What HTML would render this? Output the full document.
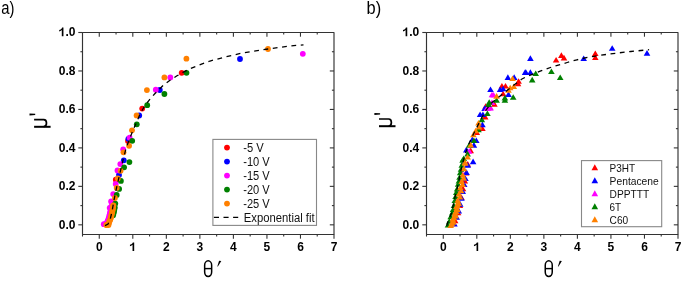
<!DOCTYPE html>
<html><head><meta charset="utf-8"><style>
html,body{margin:0;padding:0;background:#fff;}
svg{display:block;will-change:transform;}
text{font-family:"Liberation Sans",sans-serif;}
.tl{font-size:12px;font-weight:bold;fill:#000;}
.lg{font-size:12px;fill:#111;}
.lg2{font-size:10.6px;fill:#111;}
.pl{font-size:17.5px;fill:#000;}
</style></head><body>
<svg width="685" height="286" viewBox="0 0 685 286">
<rect x="82.5" y="32.5" width="251.50" height="201.95" fill="none" stroke="#333333" stroke-width="1.15" stroke-linejoin="round"/>
<line x1="82.50" y1="234.45" x2="82.50" y2="236.54999999999998" stroke="#333333" stroke-width="1.1"/>
<line x1="99.27" y1="234.45" x2="99.27" y2="238.64999999999998" stroke="#333333" stroke-width="1.1"/>
<line x1="99.27" y1="32.5" x2="99.27" y2="36.7" stroke="#333333" stroke-width="1.1"/>
<line x1="116.04" y1="234.45" x2="116.04" y2="236.54999999999998" stroke="#333333" stroke-width="1.1"/>
<line x1="116.04" y1="32.5" x2="116.04" y2="34.6" stroke="#333333" stroke-width="1.1"/>
<line x1="132.80" y1="234.45" x2="132.80" y2="238.64999999999998" stroke="#333333" stroke-width="1.1"/>
<line x1="132.80" y1="32.5" x2="132.80" y2="36.7" stroke="#333333" stroke-width="1.1"/>
<line x1="149.57" y1="234.45" x2="149.57" y2="236.54999999999998" stroke="#333333" stroke-width="1.1"/>
<line x1="149.57" y1="32.5" x2="149.57" y2="34.6" stroke="#333333" stroke-width="1.1"/>
<line x1="166.34" y1="234.45" x2="166.34" y2="238.64999999999998" stroke="#333333" stroke-width="1.1"/>
<line x1="166.34" y1="32.5" x2="166.34" y2="36.7" stroke="#333333" stroke-width="1.1"/>
<line x1="183.10" y1="234.45" x2="183.10" y2="236.54999999999998" stroke="#333333" stroke-width="1.1"/>
<line x1="183.10" y1="32.5" x2="183.10" y2="34.6" stroke="#333333" stroke-width="1.1"/>
<line x1="199.87" y1="234.45" x2="199.87" y2="238.64999999999998" stroke="#333333" stroke-width="1.1"/>
<line x1="199.87" y1="32.5" x2="199.87" y2="36.7" stroke="#333333" stroke-width="1.1"/>
<line x1="216.64" y1="234.45" x2="216.64" y2="236.54999999999998" stroke="#333333" stroke-width="1.1"/>
<line x1="216.64" y1="32.5" x2="216.64" y2="34.6" stroke="#333333" stroke-width="1.1"/>
<line x1="233.40" y1="234.45" x2="233.40" y2="238.64999999999998" stroke="#333333" stroke-width="1.1"/>
<line x1="233.40" y1="32.5" x2="233.40" y2="36.7" stroke="#333333" stroke-width="1.1"/>
<line x1="250.17" y1="234.45" x2="250.17" y2="236.54999999999998" stroke="#333333" stroke-width="1.1"/>
<line x1="250.17" y1="32.5" x2="250.17" y2="34.6" stroke="#333333" stroke-width="1.1"/>
<line x1="266.94" y1="234.45" x2="266.94" y2="238.64999999999998" stroke="#333333" stroke-width="1.1"/>
<line x1="266.94" y1="32.5" x2="266.94" y2="36.7" stroke="#333333" stroke-width="1.1"/>
<line x1="283.70" y1="234.45" x2="283.70" y2="236.54999999999998" stroke="#333333" stroke-width="1.1"/>
<line x1="283.70" y1="32.5" x2="283.70" y2="34.6" stroke="#333333" stroke-width="1.1"/>
<line x1="300.47" y1="234.45" x2="300.47" y2="238.64999999999998" stroke="#333333" stroke-width="1.1"/>
<line x1="300.47" y1="32.5" x2="300.47" y2="36.7" stroke="#333333" stroke-width="1.1"/>
<line x1="317.23" y1="234.45" x2="317.23" y2="236.54999999999998" stroke="#333333" stroke-width="1.1"/>
<line x1="317.23" y1="32.5" x2="317.23" y2="34.6" stroke="#333333" stroke-width="1.1"/>
<line x1="334.00" y1="234.45" x2="334.00" y2="238.64999999999998" stroke="#333333" stroke-width="1.1"/>
<line x1="78.3" y1="224.83" x2="82.5" y2="224.83" stroke="#333333" stroke-width="1.1"/>
<line x1="329.8" y1="224.83" x2="334.0" y2="224.83" stroke="#333333" stroke-width="1.1"/>
<line x1="80.4" y1="205.60" x2="82.5" y2="205.60" stroke="#333333" stroke-width="1.1"/>
<line x1="331.9" y1="205.60" x2="334.0" y2="205.60" stroke="#333333" stroke-width="1.1"/>
<line x1="78.3" y1="186.36" x2="82.5" y2="186.36" stroke="#333333" stroke-width="1.1"/>
<line x1="329.8" y1="186.36" x2="334.0" y2="186.36" stroke="#333333" stroke-width="1.1"/>
<line x1="80.4" y1="167.13" x2="82.5" y2="167.13" stroke="#333333" stroke-width="1.1"/>
<line x1="331.9" y1="167.13" x2="334.0" y2="167.13" stroke="#333333" stroke-width="1.1"/>
<line x1="78.3" y1="147.90" x2="82.5" y2="147.90" stroke="#333333" stroke-width="1.1"/>
<line x1="329.8" y1="147.90" x2="334.0" y2="147.90" stroke="#333333" stroke-width="1.1"/>
<line x1="80.4" y1="128.67" x2="82.5" y2="128.67" stroke="#333333" stroke-width="1.1"/>
<line x1="331.9" y1="128.67" x2="334.0" y2="128.67" stroke="#333333" stroke-width="1.1"/>
<line x1="78.3" y1="109.43" x2="82.5" y2="109.43" stroke="#333333" stroke-width="1.1"/>
<line x1="329.8" y1="109.43" x2="334.0" y2="109.43" stroke="#333333" stroke-width="1.1"/>
<line x1="80.4" y1="90.20" x2="82.5" y2="90.20" stroke="#333333" stroke-width="1.1"/>
<line x1="331.9" y1="90.20" x2="334.0" y2="90.20" stroke="#333333" stroke-width="1.1"/>
<line x1="78.3" y1="70.97" x2="82.5" y2="70.97" stroke="#333333" stroke-width="1.1"/>
<line x1="329.8" y1="70.97" x2="334.0" y2="70.97" stroke="#333333" stroke-width="1.1"/>
<line x1="80.4" y1="51.73" x2="82.5" y2="51.73" stroke="#333333" stroke-width="1.1"/>
<line x1="331.9" y1="51.73" x2="334.0" y2="51.73" stroke="#333333" stroke-width="1.1"/>
<line x1="78.3" y1="32.50" x2="82.5" y2="32.50" stroke="#333333" stroke-width="1.1"/>
<text x="99.27" y="251" class="tl" text-anchor="middle">0</text>
<path d="M134.19,251.00 L134.19,242.41 L132.84,242.41 L132.47,243.32 L131.39,244.28 L129.95,244.82 L129.95,246.30 L131.15,245.86 L131.99,245.36 L132.54,244.82 L132.54,251.00 Z" fill="#000"/>
<text x="166.34" y="251" class="tl" text-anchor="middle">2</text>
<text x="199.87" y="251" class="tl" text-anchor="middle">3</text>
<text x="233.40" y="251" class="tl" text-anchor="middle">4</text>
<text x="266.94" y="251" class="tl" text-anchor="middle">5</text>
<text x="300.47" y="251" class="tl" text-anchor="middle">6</text>
<text x="334.00" y="251" class="tl" text-anchor="middle">7</text>
<text x="75.4" y="228.53" class="tl" text-anchor="end">0.0</text>
<text x="75.4" y="190.06" class="tl" text-anchor="end">0.2</text>
<text x="75.4" y="151.60" class="tl" text-anchor="end">0.4</text>
<text x="75.4" y="113.13" class="tl" text-anchor="end">0.6</text>
<text x="75.4" y="74.67" class="tl" text-anchor="end">0.8</text>
<path d="M63.45,36.20 L63.45,27.61 L62.09,27.61 L61.72,28.52 L60.64,29.48 L59.20,30.02 L59.20,31.50 L60.40,31.06 L61.24,30.56 L61.79,30.02 L61.79,36.20 Z" fill="#000"/>
<text x="75.4" y="36.20" class="tl" text-anchor="end">.0</text>
<rect x="426.5" y="32.5" width="251.50" height="201.95" fill="none" stroke="#333333" stroke-width="1.15" stroke-linejoin="round"/>
<line x1="426.50" y1="234.45" x2="426.50" y2="236.54999999999998" stroke="#333333" stroke-width="1.1"/>
<line x1="443.27" y1="234.45" x2="443.27" y2="238.64999999999998" stroke="#333333" stroke-width="1.1"/>
<line x1="443.27" y1="32.5" x2="443.27" y2="36.7" stroke="#333333" stroke-width="1.1"/>
<line x1="460.04" y1="234.45" x2="460.04" y2="236.54999999999998" stroke="#333333" stroke-width="1.1"/>
<line x1="460.04" y1="32.5" x2="460.04" y2="34.6" stroke="#333333" stroke-width="1.1"/>
<line x1="476.80" y1="234.45" x2="476.80" y2="238.64999999999998" stroke="#333333" stroke-width="1.1"/>
<line x1="476.80" y1="32.5" x2="476.80" y2="36.7" stroke="#333333" stroke-width="1.1"/>
<line x1="493.57" y1="234.45" x2="493.57" y2="236.54999999999998" stroke="#333333" stroke-width="1.1"/>
<line x1="493.57" y1="32.5" x2="493.57" y2="34.6" stroke="#333333" stroke-width="1.1"/>
<line x1="510.34" y1="234.45" x2="510.34" y2="238.64999999999998" stroke="#333333" stroke-width="1.1"/>
<line x1="510.34" y1="32.5" x2="510.34" y2="36.7" stroke="#333333" stroke-width="1.1"/>
<line x1="527.10" y1="234.45" x2="527.10" y2="236.54999999999998" stroke="#333333" stroke-width="1.1"/>
<line x1="527.10" y1="32.5" x2="527.10" y2="34.6" stroke="#333333" stroke-width="1.1"/>
<line x1="543.87" y1="234.45" x2="543.87" y2="238.64999999999998" stroke="#333333" stroke-width="1.1"/>
<line x1="543.87" y1="32.5" x2="543.87" y2="36.7" stroke="#333333" stroke-width="1.1"/>
<line x1="560.64" y1="234.45" x2="560.64" y2="236.54999999999998" stroke="#333333" stroke-width="1.1"/>
<line x1="560.64" y1="32.5" x2="560.64" y2="34.6" stroke="#333333" stroke-width="1.1"/>
<line x1="577.40" y1="234.45" x2="577.40" y2="238.64999999999998" stroke="#333333" stroke-width="1.1"/>
<line x1="577.40" y1="32.5" x2="577.40" y2="36.7" stroke="#333333" stroke-width="1.1"/>
<line x1="594.17" y1="234.45" x2="594.17" y2="236.54999999999998" stroke="#333333" stroke-width="1.1"/>
<line x1="594.17" y1="32.5" x2="594.17" y2="34.6" stroke="#333333" stroke-width="1.1"/>
<line x1="610.93" y1="234.45" x2="610.93" y2="238.64999999999998" stroke="#333333" stroke-width="1.1"/>
<line x1="610.93" y1="32.5" x2="610.93" y2="36.7" stroke="#333333" stroke-width="1.1"/>
<line x1="627.70" y1="234.45" x2="627.70" y2="236.54999999999998" stroke="#333333" stroke-width="1.1"/>
<line x1="627.70" y1="32.5" x2="627.70" y2="34.6" stroke="#333333" stroke-width="1.1"/>
<line x1="644.47" y1="234.45" x2="644.47" y2="238.64999999999998" stroke="#333333" stroke-width="1.1"/>
<line x1="644.47" y1="32.5" x2="644.47" y2="36.7" stroke="#333333" stroke-width="1.1"/>
<line x1="661.23" y1="234.45" x2="661.23" y2="236.54999999999998" stroke="#333333" stroke-width="1.1"/>
<line x1="661.23" y1="32.5" x2="661.23" y2="34.6" stroke="#333333" stroke-width="1.1"/>
<line x1="678.00" y1="234.45" x2="678.00" y2="238.64999999999998" stroke="#333333" stroke-width="1.1"/>
<line x1="422.3" y1="224.83" x2="426.5" y2="224.83" stroke="#333333" stroke-width="1.1"/>
<line x1="673.8" y1="224.83" x2="678.0" y2="224.83" stroke="#333333" stroke-width="1.1"/>
<line x1="424.4" y1="205.60" x2="426.5" y2="205.60" stroke="#333333" stroke-width="1.1"/>
<line x1="675.9" y1="205.60" x2="678.0" y2="205.60" stroke="#333333" stroke-width="1.1"/>
<line x1="422.3" y1="186.36" x2="426.5" y2="186.36" stroke="#333333" stroke-width="1.1"/>
<line x1="673.8" y1="186.36" x2="678.0" y2="186.36" stroke="#333333" stroke-width="1.1"/>
<line x1="424.4" y1="167.13" x2="426.5" y2="167.13" stroke="#333333" stroke-width="1.1"/>
<line x1="675.9" y1="167.13" x2="678.0" y2="167.13" stroke="#333333" stroke-width="1.1"/>
<line x1="422.3" y1="147.90" x2="426.5" y2="147.90" stroke="#333333" stroke-width="1.1"/>
<line x1="673.8" y1="147.90" x2="678.0" y2="147.90" stroke="#333333" stroke-width="1.1"/>
<line x1="424.4" y1="128.67" x2="426.5" y2="128.67" stroke="#333333" stroke-width="1.1"/>
<line x1="675.9" y1="128.67" x2="678.0" y2="128.67" stroke="#333333" stroke-width="1.1"/>
<line x1="422.3" y1="109.43" x2="426.5" y2="109.43" stroke="#333333" stroke-width="1.1"/>
<line x1="673.8" y1="109.43" x2="678.0" y2="109.43" stroke="#333333" stroke-width="1.1"/>
<line x1="424.4" y1="90.20" x2="426.5" y2="90.20" stroke="#333333" stroke-width="1.1"/>
<line x1="675.9" y1="90.20" x2="678.0" y2="90.20" stroke="#333333" stroke-width="1.1"/>
<line x1="422.3" y1="70.97" x2="426.5" y2="70.97" stroke="#333333" stroke-width="1.1"/>
<line x1="673.8" y1="70.97" x2="678.0" y2="70.97" stroke="#333333" stroke-width="1.1"/>
<line x1="424.4" y1="51.73" x2="426.5" y2="51.73" stroke="#333333" stroke-width="1.1"/>
<line x1="675.9" y1="51.73" x2="678.0" y2="51.73" stroke="#333333" stroke-width="1.1"/>
<line x1="422.3" y1="32.50" x2="426.5" y2="32.50" stroke="#333333" stroke-width="1.1"/>
<text x="443.27" y="251" class="tl" text-anchor="middle">0</text>
<path d="M478.19,251.00 L478.19,242.41 L476.84,242.41 L476.47,243.32 L475.39,244.28 L473.95,244.82 L473.95,246.30 L475.15,245.86 L475.99,245.36 L476.54,244.82 L476.54,251.00 Z" fill="#000"/>
<text x="510.34" y="251" class="tl" text-anchor="middle">2</text>
<text x="543.87" y="251" class="tl" text-anchor="middle">3</text>
<text x="577.40" y="251" class="tl" text-anchor="middle">4</text>
<text x="610.93" y="251" class="tl" text-anchor="middle">5</text>
<text x="644.47" y="251" class="tl" text-anchor="middle">6</text>
<text x="678.00" y="251" class="tl" text-anchor="middle">7</text>
<text x="419.2" y="228.53" class="tl" text-anchor="end">0.0</text>
<text x="419.2" y="190.06" class="tl" text-anchor="end">0.2</text>
<text x="419.2" y="151.60" class="tl" text-anchor="end">0.4</text>
<text x="419.2" y="113.13" class="tl" text-anchor="end">0.6</text>
<text x="419.2" y="74.67" class="tl" text-anchor="end">0.8</text>
<path d="M407.25,36.20 L407.25,27.61 L405.89,27.61 L405.52,28.52 L404.44,29.48 L403.00,30.02 L403.00,31.50 L404.20,31.06 L405.04,30.56 L405.59,30.02 L405.59,36.20 Z" fill="#000"/>
<text x="419.2" y="36.20" class="tl" text-anchor="end">.0</text>
<circle cx="181.70" cy="72.80" r="2.9" fill="#ff0000"/><circle cx="142.20" cy="108.60" r="2.9" fill="#ff0000"/><circle cx="128.00" cy="141.00" r="2.9" fill="#ff0000"/><circle cx="115.80" cy="179.70" r="2.9" fill="#ff0000"/><circle cx="240.00" cy="59.00" r="2.9" fill="#0000ff"/><circle cx="159.80" cy="90.00" r="2.9" fill="#0000ff"/><circle cx="139.20" cy="115.50" r="2.9" fill="#0000ff"/><circle cx="128.40" cy="138.80" r="2.9" fill="#0000ff"/><circle cx="123.80" cy="160.30" r="2.9" fill="#0000ff"/><circle cx="119.00" cy="175.00" r="2.9" fill="#0000ff"/><circle cx="103.80" cy="224.20" r="2.9" fill="#ff00ff"/><circle cx="105.63" cy="224.00" r="2.9" fill="#ff00ff"/><circle cx="107.06" cy="222.40" r="2.9" fill="#ff00ff"/><circle cx="107.72" cy="220.80" r="2.9" fill="#ff00ff"/><circle cx="108.38" cy="219.20" r="2.9" fill="#ff00ff"/><circle cx="108.95" cy="217.60" r="2.9" fill="#ff00ff"/><circle cx="109.34" cy="216.00" r="2.9" fill="#ff00ff"/><circle cx="109.72" cy="214.40" r="2.9" fill="#ff00ff"/><circle cx="110.07" cy="212.80" r="2.9" fill="#ff00ff"/><circle cx="110.43" cy="211.20" r="2.9" fill="#ff00ff"/><circle cx="110.78" cy="209.60" r="2.9" fill="#ff00ff"/><circle cx="111.05" cy="208.00" r="2.9" fill="#ff00ff"/><circle cx="111.33" cy="206.40" r="2.9" fill="#ff00ff"/><circle cx="302.80" cy="53.80" r="2.9" fill="#ff00ff"/><circle cx="170.30" cy="77.40" r="2.9" fill="#ff00ff"/><circle cx="155.80" cy="89.70" r="2.9" fill="#ff00ff"/><circle cx="129.60" cy="137.70" r="2.9" fill="#ff00ff"/><circle cx="123.20" cy="149.50" r="2.9" fill="#ff00ff"/><circle cx="120.30" cy="164.10" r="2.9" fill="#ff00ff"/><circle cx="117.50" cy="170.40" r="2.9" fill="#ff00ff"/><circle cx="115.70" cy="184.00" r="2.9" fill="#ff00ff"/><circle cx="113.20" cy="194.10" r="2.9" fill="#ff00ff"/><circle cx="111.10" cy="201.50" r="2.9" fill="#ff00ff"/><circle cx="109.70" cy="207.80" r="2.9" fill="#ff00ff"/><circle cx="113.12" cy="215.20" r="2.9" fill="#008000"/><circle cx="113.47" cy="213.60" r="2.9" fill="#008000"/><circle cx="113.83" cy="212.00" r="2.9" fill="#008000"/><circle cx="114.18" cy="210.40" r="2.9" fill="#008000"/><circle cx="114.45" cy="208.80" r="2.9" fill="#008000"/><circle cx="114.73" cy="207.20" r="2.9" fill="#008000"/><circle cx="186.50" cy="72.80" r="2.9" fill="#008000"/><circle cx="164.40" cy="94.00" r="2.9" fill="#008000"/><circle cx="147.20" cy="105.20" r="2.9" fill="#008000"/><circle cx="136.80" cy="124.30" r="2.9" fill="#008000"/><circle cx="132.20" cy="140.80" r="2.9" fill="#008000"/><circle cx="129.40" cy="162.10" r="2.9" fill="#008000"/><circle cx="124.10" cy="167.30" r="2.9" fill="#008000"/><circle cx="120.90" cy="180.90" r="2.9" fill="#008000"/><circle cx="119.10" cy="188.90" r="2.9" fill="#008000"/><circle cx="116.70" cy="194.90" r="2.9" fill="#008000"/><circle cx="115.30" cy="203.60" r="2.9" fill="#008000"/><circle cx="106.50" cy="225.00" r="2.9" fill="#ff8000"/><circle cx="108.50" cy="225.00" r="2.9" fill="#ff8000"/><circle cx="106.46" cy="225.00" r="2.9" fill="#ff8000"/><circle cx="108.52" cy="223.70" r="2.9" fill="#ff8000"/><circle cx="109.06" cy="222.40" r="2.9" fill="#ff8000"/><circle cx="109.60" cy="221.10" r="2.9" fill="#ff8000"/><circle cx="110.14" cy="219.80" r="2.9" fill="#ff8000"/><circle cx="110.65" cy="218.50" r="2.9" fill="#ff8000"/><circle cx="110.96" cy="217.20" r="2.9" fill="#ff8000"/><circle cx="111.28" cy="215.90" r="2.9" fill="#ff8000"/><circle cx="111.59" cy="214.60" r="2.9" fill="#ff8000"/><circle cx="111.87" cy="213.30" r="2.9" fill="#ff8000"/><circle cx="112.16" cy="212.00" r="2.9" fill="#ff8000"/><circle cx="112.45" cy="210.70" r="2.9" fill="#ff8000"/><circle cx="112.70" cy="209.40" r="2.9" fill="#ff8000"/><circle cx="112.92" cy="208.10" r="2.9" fill="#ff8000"/><circle cx="113.14" cy="206.80" r="2.9" fill="#ff8000"/><circle cx="113.37" cy="205.50" r="2.9" fill="#ff8000"/><circle cx="268.00" cy="49.00" r="2.9" fill="#ff8000"/><circle cx="186.40" cy="58.70" r="2.9" fill="#ff8000"/><circle cx="164.40" cy="77.40" r="2.9" fill="#ff8000"/><circle cx="146.90" cy="90.10" r="2.9" fill="#ff8000"/><circle cx="136.60" cy="115.40" r="2.9" fill="#ff8000"/><circle cx="132.00" cy="130.30" r="2.9" fill="#ff8000"/><circle cx="129.10" cy="145.80" r="2.9" fill="#ff8000"/><circle cx="123.50" cy="152.30" r="2.9" fill="#ff8000"/><circle cx="120.60" cy="170.80" r="2.9" fill="#ff8000"/><circle cx="117.80" cy="178.50" r="2.9" fill="#ff8000"/><circle cx="116.70" cy="187.90" r="2.9" fill="#ff8000"/><circle cx="114.90" cy="198.00" r="2.9" fill="#ff8000"/><circle cx="113.20" cy="205.70" r="2.9" fill="#ff8000"/>
<path d="M105.00,225.60 L108.10,224.00 L110.30,218.70 L111.20,215.00 L112.30,210.00 L114.00,200.00 L116.50,188.00 L119.50,175.00 L122.50,162.00 L126.00,148.50 L129.50,139.00 L132.80,130.80 L137.20,120.80 L140.50,113.00 L145.00,105.50 L149.40,99.90 L155.00,93.50 L163.60,85.00 L170.00,80.30 L177.00,75.80 L184.00,71.80 L190.00,68.80 L199.00,65.10 L210.00,61.00 L225.00,57.00 L241.20,53.30 L268.00,49.00 L291.00,45.90 L303.50,44.80" fill="none" stroke="#000" stroke-width="1.3" stroke-dasharray="4.8 4.6"/>
<path d="M455.14,217.53 L458.44,223.13 L451.84,223.13 Z" fill="#ff0000"/><path d="M458.02,209.66 L461.32,215.26 L454.72,215.26 Z" fill="#ff0000"/><path d="M459.84,202.33 L463.14,207.93 L456.54,207.93 Z" fill="#ff0000"/><path d="M461.43,194.29 L464.73,199.89 L458.13,199.89 Z" fill="#ff0000"/><path d="M463.04,185.76 L466.34,191.36 L459.74,191.36 Z" fill="#ff0000"/><path d="M464.81,177.98 L468.11,183.58 L461.51,183.58 Z" fill="#ff0000"/><path d="M466.13,169.80 L469.43,175.40 L462.83,175.40 Z" fill="#ff0000"/><path d="M467.74,161.05 L471.04,166.65 L464.44,166.65 Z" fill="#ff0000"/><path d="M556.10,57.02 L559.40,62.62 L552.80,62.62 Z" fill="#ff0000"/><path d="M561.40,52.32 L564.70,57.92 L558.10,57.92 Z" fill="#ff0000"/><path d="M564.00,54.82 L567.30,60.42 L560.70,60.42 Z" fill="#ff0000"/><path d="M595.30,50.52 L598.60,56.12 L592.00,56.12 Z" fill="#ff0000"/><path d="M595.30,54.52 L598.60,60.12 L592.00,60.12 Z" fill="#ff0000"/><path d="M518.60,78.22 L521.90,83.82 L515.30,83.82 Z" fill="#ff0000"/><path d="M518.00,80.62 L521.30,86.22 L514.70,86.22 Z" fill="#ff0000"/><path d="M501.90,83.02 L505.20,88.62 L498.60,88.62 Z" fill="#ff0000"/><path d="M505.50,83.02 L508.80,88.62 L502.20,88.62 Z" fill="#ff0000"/><path d="M503.10,90.72 L506.40,96.32 L499.80,96.32 Z" fill="#ff0000"/><path d="M494.40,101.12 L497.70,106.72 L491.10,106.72 Z" fill="#ff0000"/><path d="M485.70,103.22 L489.00,108.82 L482.40,108.82 Z" fill="#ff0000"/><path d="M485.20,113.82 L488.50,119.42 L481.90,119.42 Z" fill="#ff0000"/><path d="M482.40,125.52 L485.70,131.12 L479.10,131.12 Z" fill="#ff0000"/><path d="M476.80,129.42 L480.10,135.02 L473.50,135.02 Z" fill="#ff0000"/><path d="M470.70,147.62 L474.00,153.22 L467.40,153.22 Z" fill="#ff0000"/><path d="M454.46,221.00 L457.76,226.60 L451.16,226.60 Z" fill="#0000ff"/><path d="M456.65,214.08 L459.95,219.68 L453.35,219.68 Z" fill="#0000ff"/><path d="M458.76,207.80 L462.06,213.40 L455.46,213.40 Z" fill="#0000ff"/><path d="M460.20,201.12 L463.50,206.72 L456.90,206.72 Z" fill="#0000ff"/><path d="M461.49,195.19 L464.79,200.79 L458.19,200.79 Z" fill="#0000ff"/><path d="M462.72,188.34 L466.02,193.94 L459.42,193.94 Z" fill="#0000ff"/><path d="M464.21,181.44 L467.51,187.04 L460.91,187.04 Z" fill="#0000ff"/><path d="M465.44,175.48 L468.74,181.08 L462.14,181.08 Z" fill="#0000ff"/><path d="M466.50,169.31 L469.80,174.91 L463.20,174.91 Z" fill="#0000ff"/><path d="M467.80,162.15 L471.10,167.75 L464.50,167.75 Z" fill="#0000ff"/><path d="M530.40,55.32 L533.70,60.92 L527.10,60.92 Z" fill="#0000ff"/><path d="M525.90,69.32 L529.20,74.92 L522.60,74.92 Z" fill="#0000ff"/><path d="M530.40,69.32 L533.70,74.92 L527.10,74.92 Z" fill="#0000ff"/><path d="M583.70,55.52 L587.00,61.12 L580.40,61.12 Z" fill="#0000ff"/><path d="M612.20,45.22 L615.50,50.82 L608.90,50.82 Z" fill="#0000ff"/><path d="M647.00,50.12 L650.30,55.72 L643.70,55.72 Z" fill="#0000ff"/><path d="M525.10,69.32 L528.40,74.92 L521.80,74.92 Z" fill="#0000ff"/><path d="M507.90,74.32 L511.20,79.92 L504.60,79.92 Z" fill="#0000ff"/><path d="M514.20,74.32 L517.50,79.92 L510.90,79.92 Z" fill="#0000ff"/><path d="M500.10,86.52 L503.40,92.12 L496.80,92.12 Z" fill="#0000ff"/><path d="M503.10,85.72 L506.40,91.32 L499.80,91.32 Z" fill="#0000ff"/><path d="M508.50,91.32 L511.80,96.92 L505.20,96.92 Z" fill="#0000ff"/><path d="M490.50,86.42 L493.80,92.02 L487.20,92.02 Z" fill="#0000ff"/><path d="M485.70,105.22 L489.00,110.82 L482.40,110.82 Z" fill="#0000ff"/><path d="M484.60,105.42 L487.90,111.02 L481.30,111.02 Z" fill="#0000ff"/><path d="M480.10,111.52 L483.40,117.12 L476.80,117.12 Z" fill="#0000ff"/><path d="M482.90,111.52 L486.20,117.12 L479.60,117.12 Z" fill="#0000ff"/><path d="M482.40,121.62 L485.70,127.22 L479.10,127.22 Z" fill="#0000ff"/><path d="M472.30,136.62 L475.60,142.22 L469.00,142.22 Z" fill="#0000ff"/><path d="M476.30,137.42 L479.60,143.02 L473.00,143.02 Z" fill="#0000ff"/><path d="M473.90,142.12 L477.20,147.72 L470.60,147.72 Z" fill="#0000ff"/><path d="M466.30,146.82 L469.60,152.42 L463.00,152.42 Z" fill="#0000ff"/><path d="M473.10,158.62 L476.40,164.22 L469.80,164.22 Z" fill="#0000ff"/><path d="M456.00,196.92 L459.30,202.52 L452.70,202.52 Z" fill="#ff00ff"/><path d="M457.77,187.62 L461.07,193.22 L454.47,193.22 Z" fill="#ff00ff"/><path d="M459.86,178.32 L463.16,183.92 L456.56,183.92 Z" fill="#ff00ff"/><path d="M461.38,169.02 L464.68,174.62 L458.08,174.62 Z" fill="#ff00ff"/><path d="M463.24,159.72 L466.54,165.32 L459.94,165.32 Z" fill="#ff00ff"/><path d="M493.60,91.92 L496.90,97.52 L490.30,97.52 Z" fill="#ff00ff"/><path d="M492.00,91.72 L495.30,97.32 L488.70,97.32 Z" fill="#ff00ff"/><path d="M492.00,99.52 L495.30,105.12 L488.70,105.12 Z" fill="#ff00ff"/><path d="M490.50,104.72 L493.80,110.32 L487.20,110.32 Z" fill="#ff00ff"/><path d="M488.10,105.22 L491.40,110.82 L484.80,110.82 Z" fill="#ff00ff"/><path d="M486.80,105.42 L490.10,111.02 L483.50,111.02 Z" fill="#ff00ff"/><path d="M490.20,104.82 L493.50,110.42 L486.90,110.42 Z" fill="#ff00ff"/><path d="M469.20,148.12 L472.50,153.72 L465.90,153.72 Z" fill="#ff00ff"/><path d="M448.03,221.99 L451.33,227.59 L444.73,227.59 Z" fill="#008000"/><path d="M449.34,218.21 L452.64,223.81 L446.04,223.81 Z" fill="#008000"/><path d="M450.73,213.63 L454.03,219.23 L447.43,219.23 Z" fill="#008000"/><path d="M452.20,209.94 L455.50,215.54 L448.90,215.54 Z" fill="#008000"/><path d="M453.11,206.47 L456.41,212.07 L449.81,212.07 Z" fill="#008000"/><path d="M454.00,202.47 L457.30,208.07 L450.70,208.07 Z" fill="#008000"/><path d="M454.80,197.40 L458.10,203.00 L451.50,203.00 Z" fill="#008000"/><path d="M455.58,193.51 L458.88,199.11 L452.28,199.11 Z" fill="#008000"/><path d="M456.33,189.29 L459.63,194.89 L453.03,194.89 Z" fill="#008000"/><path d="M457.14,185.84 L460.44,191.44 L453.84,191.44 Z" fill="#008000"/><path d="M458.11,181.26 L461.41,186.86 L454.81,186.86 Z" fill="#008000"/><path d="M458.93,177.86 L462.23,183.46 L455.63,183.46 Z" fill="#008000"/><path d="M459.58,174.13 L462.88,179.73 L456.28,179.73 Z" fill="#008000"/><path d="M460.24,169.61 L463.54,175.21 L456.94,175.21 Z" fill="#008000"/><path d="M461.00,166.17 L464.30,171.77 L457.70,171.77 Z" fill="#008000"/><path d="M461.80,162.05 L465.10,167.65 L458.50,167.65 Z" fill="#008000"/><path d="M462.60,157.25 L465.90,162.85 L459.30,162.85 Z" fill="#008000"/><path d="M535.70,70.52 L539.00,76.12 L532.40,76.12 Z" fill="#008000"/><path d="M532.20,76.82 L535.50,82.42 L528.90,82.42 Z" fill="#008000"/><path d="M551.40,68.42 L554.70,74.02 L548.10,74.02 Z" fill="#008000"/><path d="M560.20,74.52 L563.50,80.12 L556.90,80.12 Z" fill="#008000"/><path d="M504.90,94.82 L508.20,100.42 L501.60,100.42 Z" fill="#008000"/><path d="M504.90,97.22 L508.20,102.82 L501.60,102.82 Z" fill="#008000"/><path d="M513.20,94.22 L516.50,99.82 L509.90,99.82 Z" fill="#008000"/><path d="M496.60,97.22 L499.90,102.82 L493.30,102.82 Z" fill="#008000"/><path d="M489.20,99.22 L492.50,104.82 L485.90,104.82 Z" fill="#008000"/><path d="M488.50,101.52 L491.80,107.12 L485.20,107.12 Z" fill="#008000"/><path d="M487.40,110.42 L490.70,116.02 L484.10,116.02 Z" fill="#008000"/><path d="M481.80,116.62 L485.10,122.22 L478.50,122.22 Z" fill="#008000"/><path d="M478.50,126.62 L481.80,132.22 L475.20,132.22 Z" fill="#008000"/><path d="M473.90,137.42 L477.20,143.02 L470.60,143.02 Z" fill="#008000"/><path d="M469.20,142.12 L472.50,147.72 L465.90,147.72 Z" fill="#008000"/><path d="M467.60,150.82 L470.90,156.42 L464.30,156.42 Z" fill="#008000"/><path d="M463.70,155.52 L467.00,161.12 L460.40,161.12 Z" fill="#008000"/><path d="M450.66,222.42 L453.96,228.02 L447.36,228.02 Z" fill="#ff8000"/><path d="M452.73,216.12 L456.03,221.72 L449.43,221.72 Z" fill="#ff8000"/><path d="M455.02,209.82 L458.32,215.42 L451.72,215.42 Z" fill="#ff8000"/><path d="M456.46,203.52 L459.76,209.12 L453.16,209.12 Z" fill="#ff8000"/><path d="M457.74,197.22 L461.04,202.82 L454.44,202.82 Z" fill="#ff8000"/><path d="M458.94,190.92 L462.24,196.52 L455.64,196.52 Z" fill="#ff8000"/><path d="M460.26,184.62 L463.56,190.22 L456.96,190.22 Z" fill="#ff8000"/><path d="M461.66,178.32 L464.96,183.92 L458.36,183.92 Z" fill="#ff8000"/><path d="M462.69,172.02 L465.99,177.62 L459.39,177.62 Z" fill="#ff8000"/><path d="M463.84,165.72 L467.14,171.32 L460.54,171.32 Z" fill="#ff8000"/><path d="M465.10,159.42 L468.40,165.02 L461.80,165.02 Z" fill="#ff8000"/><path d="M453.32,219.22 L456.62,224.82 L450.02,224.82 Z" fill="#ff8000"/><path d="M455.50,212.92 L458.80,218.52 L452.20,218.52 Z" fill="#ff8000"/><path d="M457.35,206.62 L460.65,212.22 L454.05,212.22 Z" fill="#ff8000"/><path d="M458.72,200.32 L462.02,205.92 L455.42,205.92 Z" fill="#ff8000"/><path d="M459.96,194.02 L463.26,199.62 L456.66,199.62 Z" fill="#ff8000"/><path d="M461.15,187.72 L464.45,193.32 L457.85,193.32 Z" fill="#ff8000"/><path d="M462.64,181.42 L465.94,187.02 L459.34,187.02 Z" fill="#ff8000"/><path d="M463.79,175.12 L467.09,180.72 L460.49,180.72 Z" fill="#ff8000"/><path d="M451.96,220.92 L455.26,226.52 L448.66,226.52 Z" fill="#ff8000"/><path d="M452.98,217.82 L456.28,223.42 L449.68,223.42 Z" fill="#ff8000"/><path d="M454.04,214.72 L457.34,220.32 L450.74,220.32 Z" fill="#ff8000"/><path d="M455.18,211.62 L458.48,217.22 L451.88,217.22 Z" fill="#ff8000"/><path d="M456.12,208.52 L459.42,214.12 L452.82,214.12 Z" fill="#ff8000"/><path d="M456.83,205.42 L460.13,211.02 L453.53,211.02 Z" fill="#ff8000"/><path d="M457.52,202.32 L460.82,207.92 L454.22,207.92 Z" fill="#ff8000"/><path d="M458.14,199.22 L461.44,204.82 L454.84,204.82 Z" fill="#ff8000"/><path d="M512.60,75.52 L515.90,81.12 L509.30,81.12 Z" fill="#ff8000"/><path d="M513.80,83.52 L517.10,89.12 L510.50,89.12 Z" fill="#ff8000"/><path d="M510.20,84.72 L513.50,90.32 L506.90,90.32 Z" fill="#ff8000"/><path d="M508.50,87.12 L511.80,92.72 L505.20,92.72 Z" fill="#ff8000"/><path d="M496.60,93.12 L499.90,98.72 L493.30,98.72 Z" fill="#ff8000"/><path d="M478.50,119.92 L481.80,125.52 L475.20,125.52 Z" fill="#ff8000"/><path d="M479.00,123.82 L482.30,129.42 L475.70,129.42 Z" fill="#ff8000"/><path d="M475.70,127.72 L479.00,133.32 L472.40,133.32 Z" fill="#ff8000"/><path d="M473.40,131.72 L476.70,137.32 L470.10,137.32 Z" fill="#ff8000"/><path d="M470.70,141.82 L474.00,147.42 L467.40,147.42 Z" fill="#ff8000"/><path d="M467.60,153.92 L470.90,159.52 L464.30,159.52 Z" fill="#ff8000"/><path d="M465.20,160.22 L468.50,165.82 L461.90,165.82 Z" fill="#ff8000"/>
<path d="M446.60,225.80 L449.00,219.00 L451.50,213.00 L454.50,199.00 L457.90,185.20 L461.00,170.00 L464.50,156.00 L468.00,146.00 L471.50,138.00 L474.50,132.00 L480.70,119.70 L486.00,110.00 L492.00,102.50 L499.50,96.50 L507.00,90.50 L514.00,85.00 L521.50,79.30 L526.20,76.80 L540.20,71.20 L552.40,66.80 L567.20,62.50 L576.90,59.80 L589.00,57.10 L609.90,53.90 L630.90,51.50 L649.10,49.70" fill="none" stroke="#000" stroke-width="1.3" stroke-dasharray="4.8 4.6"/>
<rect x="212.9" y="139.4" width="103.6" height="86.0" fill="#fff" stroke="#888" stroke-width="1.1"/><circle cx="227.00" cy="147.60" r="2.9" fill="#ff0000"/><text x="243.2" y="151.80" class="lg" textLength="20.5" lengthAdjust="spacingAndGlyphs">-5 V</text><circle cx="227.00" cy="161.60" r="2.9" fill="#0000ff"/><text x="243.2" y="165.80" class="lg" textLength="26.5" lengthAdjust="spacingAndGlyphs">-10 V</text><circle cx="227.00" cy="175.60" r="2.9" fill="#ff00ff"/><text x="243.2" y="179.80" class="lg" textLength="26.5" lengthAdjust="spacingAndGlyphs">-15 V</text><circle cx="227.00" cy="189.60" r="2.9" fill="#008000"/><text x="243.2" y="193.80" class="lg" textLength="26.5" lengthAdjust="spacingAndGlyphs">-20 V</text><circle cx="227.00" cy="203.60" r="2.9" fill="#ff8000"/><text x="243.2" y="207.80" class="lg" textLength="26.5" lengthAdjust="spacingAndGlyphs">-25 V</text><line x1="213.9" y1="217.4" x2="238.5" y2="217.4" stroke="#000" stroke-width="1.3" stroke-dasharray="5.1 4.5"/><text x="243.8" y="221.50" class="lg" textLength="70.8" lengthAdjust="spacingAndGlyphs">Exponential fit</text>
<rect x="581.5" y="160.6" width="80.2" height="66.1" fill="#fff" stroke="#888" stroke-width="1.1"/><path d="M594.80,164.30 L598.10,170.30 L591.50,170.30 Z" fill="#ff0000"/><text x="609.6" y="171.50" class="lg2" textLength="25.6" lengthAdjust="spacingAndGlyphs">P3HT</text><path d="M594.80,177.30 L598.10,183.30 L591.50,183.30 Z" fill="#0000ff"/><text x="609.6" y="184.50" class="lg2" textLength="49.2" lengthAdjust="spacingAndGlyphs">Pentacene</text><path d="M594.80,190.30 L598.10,196.30 L591.50,196.30 Z" fill="#ff00ff"/><text x="609.6" y="197.50" class="lg2" textLength="39.6" lengthAdjust="spacingAndGlyphs">DPPTTT</text><path d="M594.80,203.30 L598.10,209.30 L591.50,209.30 Z" fill="#008000"/><text x="609.6" y="210.50" class="lg2" textLength="11.6" lengthAdjust="spacingAndGlyphs">6T</text><path d="M594.80,216.30 L598.10,222.30 L591.50,222.30 Z" fill="#ff8000"/><text x="609.6" y="223.50" class="lg2" textLength="18.6" lengthAdjust="spacingAndGlyphs">C60</text>
<rect x="204.65" y="260.85" width="7.00" height="15.60" rx="3.50" ry="4.34" fill="none" stroke="#000" stroke-width="1.5"/><line x1="204.65" y1="268.60" x2="211.65" y2="268.60" stroke="#000" stroke-width="1.45"/><path d="M219.10,260.80 L221.30,261.00 L217.90,266.50 L217.30,266.40 Z" fill="#000"/>
<rect x="545.25" y="260.85" width="7.00" height="15.60" rx="3.50" ry="4.34" fill="none" stroke="#000" stroke-width="1.5"/><line x1="545.25" y1="268.60" x2="552.25" y2="268.60" stroke="#000" stroke-width="1.45"/><path d="M559.70,260.80 L561.90,261.00 L558.50,266.50 L557.90,266.40 Z" fill="#000"/>
<path d="M34.10,119.60 L43.70,119.60 C47.40,119.60 47.40,126.60 43.70,126.60" fill="none" stroke="#000" stroke-width="1.7"/><line x1="34.10" y1="126.80" x2="50.60" y2="126.80" stroke="#000" stroke-width="2.0"/><path d="M29.50,113.50 L35.20,113.80 L35.20,115.00 L29.50,115.50 Z" fill="#000"/>
<path d="M379.00,119.00 L388.60,119.00 C392.30,119.00 392.30,126.00 388.60,126.00" fill="none" stroke="#000" stroke-width="1.7"/><line x1="379.00" y1="126.20" x2="395.50" y2="126.20" stroke="#000" stroke-width="2.0"/><path d="M374.40,112.90 L380.10,113.20 L380.10,114.40 L374.40,114.90 Z" fill="#000"/>
<text x="1.2" y="14.4" class="pl" textLength="13.2" lengthAdjust="spacingAndGlyphs">a)</text>
<text x="366.6" y="14.4" class="pl" textLength="14.6" lengthAdjust="spacingAndGlyphs">b)</text>
</svg>
</body></html>
